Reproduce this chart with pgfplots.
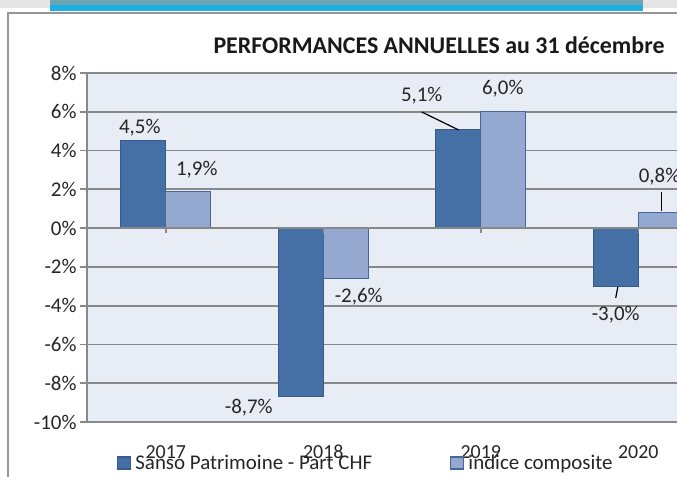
\documentclass[border=0pt]{standalone}
\usepackage{pgfplots}
\pgfplotsset{compat=1.18}
\usepackage{fontspec}
\setmainfont{Carlito}
\definecolor{darkbar}{RGB}{69,112,166}
\definecolor{darkedge}{RGB}{56,90,140}
\definecolor{lightbar}{RGB}{149,168,208}
\definecolor{lightedge}{RGB}{70,102,156}
\definecolor{plotbg}{RGB}{232,236,244}
\definecolor{gridc}{RGB}{136,136,136}
\definecolor{framec}{RGB}{150,150,150}
\definecolor{cyanbar}{RGB}{30,176,228}
\definecolor{tealtop}{RGB}{110,165,180}
\begin{document}
\begin{tikzpicture}[x=1bp,y=1bp]
\useasboundingbox (0,0) rectangle (677,477);
\clip (0,0) rectangle (677,477);
\fill[white] (0,0) rectangle (677,477);
% screenshot decoration at top
\fill[gray!20] (0,469) rectangle (677,477);
\fill[cyanbar] (50,466) rectangle (643,477);
\fill[tealtop] (50,472) rectangle (643,477);
\draw[framec, line width=1.5] (8,0) -- (8,464) -- (677,464);
\begin{axis}[
  at={(87bp,55bp)}, anchor=south west,
  scale only axis, width=630bp, height=349bp,
  xmin=-0.5, xmax=3.5, ymin=-10, ymax=8,
  ybar=0pt, bar width=45bp,
  clip=false,
  axis background/.style={fill=plotbg},
  axis line style={gridc, line width=1.7pt},
  ymajorgrids, grid style={gridc, line width=1.7pt},
  ytick={-10,-8,-6,-4,-2,0,2,4,6,8},
  yticklabels={-10\%,-8\%,-6\%,-4\%,-2\%,0\%,2\%,4\%,6\%,8\%},
  xtick={0,1,2,3}, xticklabels={2017,2018,2019,2020},
  tick align=outside, major tick length=7bp,
  ytick style={gridc, line width=1.7pt},
  xtick style={draw=none},
  yticklabel style={font=\fontsize{21}{23}\selectfont, text=black!85},
  xticklabel style={font=\fontsize{20}{22}\selectfont, text=black!85, anchor=base, yshift=-30bp},
  legend columns=2,
  legend style={draw=none, fill=none, at={(axis description cs:0.0476,-0.1175)}, anchor=west,
    font=\fontsize{21}{23}\selectfont, text=black!85, inner sep=0pt,
    nodes={inner sep=0pt},
    /tikz/every odd column/.append style={column sep=4bp},
    /tikz/every even column/.append style={column sep=78bp}},
  legend image code/.code={\draw[#1, line width=1.2pt] (0bp,-6bp) rectangle (13bp,6bp);},
]
\addplot[fill=darkbar, draw=darkedge, line width=1.2pt] coordinates {(0,4.5) (1,-8.7) (2,5.1) (3,-3.0)};
\addlegendentry{Sanso Patrimoine - Part CHF}
\addplot[fill=lightbar, draw=lightedge, line width=1.2pt] coordinates {(0,1.9) (1,-2.6) (2,6.0) (3,0.8)};
\addlegendentry{indice composite}
% zero line and its ticks
\draw[gridc, line width=1.7pt] (axis cs:-0.5,0) -- (axis cs:3.5,0);
\pgfplotsinvokeforeach{0,1,2,3}{\draw[gridc, line width=1.5pt] (axis cs:#1,0) -- ([yshift=-5pt]axis cs:#1,0);}
% data labels
\begin{scope}[every node/.style={font=\fontsize{21}{23}\selectfont, text=black!85, inner sep=0pt}]
\node at (axis cs:-0.165,5.16) {4,5\%};
\node at (axis cs:0.197,2.99) {1,9\%};
\node at (axis cs:0.527,-9.28) {-8,7\%};
\node at (axis cs:1.225,-3.56) {-2,6\%};
\node at (axis cs:1.625,6.81) {5,1\%};
\node at (axis cs:2.140,7.17) {6,0\%};
\node at (axis cs:2.857,-4.48) {-3,0\%};
\node at (axis cs:3.135,2.63) {0,8\%};
\end{scope}
\draw[black, line width=1.2pt] (axis cs:1.625,5.99) -- (axis cs:1.860,5.06);
\draw[black, line width=1.2pt] (axis cs:2.870,-3.04) -- (axis cs:2.857,-3.60);
\draw[black, line width=1.2pt] (axis cs:3.149,1.86) -- (axis cs:3.149,0.88);
\end{axis}
\node[font=\bfseries\fontsize{24}{26}\selectfont, text=black!90] at (439bp,432bp) {PERFORMANCES ANNUELLES au 31 décembre};
\end{tikzpicture}
\end{document}
